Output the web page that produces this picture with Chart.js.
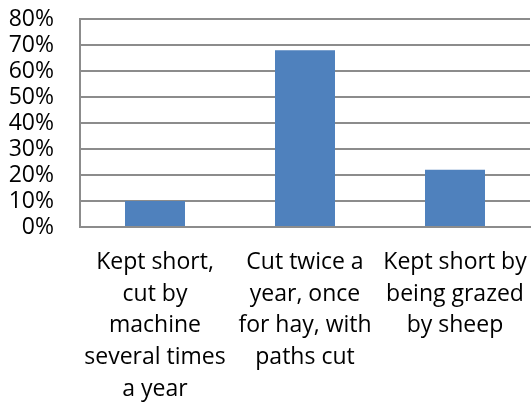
<!DOCTYPE html>
<html>
<head>
<meta charset="utf-8">
<script src="https://cdn.jsdelivr.net/npm/chart.js@4/dist/chart.umd.min.js"></script>
<style>
  html, body { margin: 0; padding: 0; background: #fff; }
  #wrap { width: 531px; height: 405px; }
</style>
</head>
<body>
<div id="wrap"><canvas id="chart"></canvas></div>
<script>
// chart data
const categories = [
    ['Kept short,', 'cut by', 'machine', 'several times', 'a year'],
    ['Cut twice a', 'year, once', 'for hay, with', 'paths cut'],
    ['Kept short by', 'being grazed', 'by sheep']
];
const percentages = [10, 68, 22];
const yTicks = [0, 10, 20, 30, 40, 50, 60, 70, 80];

const fontFamily = '"Open Sans", Lato, sans-serif';

const ctx = document.getElementById('chart').getContext('2d');
new Chart(ctx, {
    type: 'bar',
    data: {
        labels: categories,
        datasets: [{
            data: percentages,
            backgroundColor: '#4F81BD',
            borderWidth: 0,
            categoryPercentage: 1,
            barPercentage: 0.4
        }]
    },
    options: {
        responsive: true,
        maintainAspectRatio: false,
        animation: false,
        layout: { padding: { left: 8, right: 1, top: 19, bottom: 0 } },
        plugins: {
            legend: { display: false },
            tooltip: { enabled: false }
        },
        scales: {
            x: {
                afterFit: axis => {
                    axis.height = 178;
                    axis.paddingLeft = 0;
                    axis.paddingRight = 0;
                },
                grid: { display: false, drawTicks: false },
                border: { display: true, color: '#8c8c8c', width: 2 },
                ticks: {
                    color: '#000',
                    font: { family: fontFamily, size: 23, lineHeight: 1.39 },
                    maxRotation: 0,
                    autoSkip: false,
                    padding: 19
                }
            },
            y: {
                min: 0,
                max: 80,
                afterBuildTicks: axis => { axis.ticks = yTicks.map(v => ({ value: v })); },
                afterFit: axis => {
                    axis.width = 72;
                    axis.paddingTop = 0;
                    axis.paddingBottom = 0;
                },
                grid: { color: '#8c8c8c', lineWidth: 2, drawTicks: false },
                border: { display: true, color: '#8c8c8c', width: 2 },
                ticks: {
                    color: '#000',
                    font: { family: fontFamily, size: 23, lineHeight: 1.1 },
                    autoSkip: false,
                    padding: 26,
                    callback: v => v + '%'
                }
            }
        }
    }
});
</script>
</body>
</html>
